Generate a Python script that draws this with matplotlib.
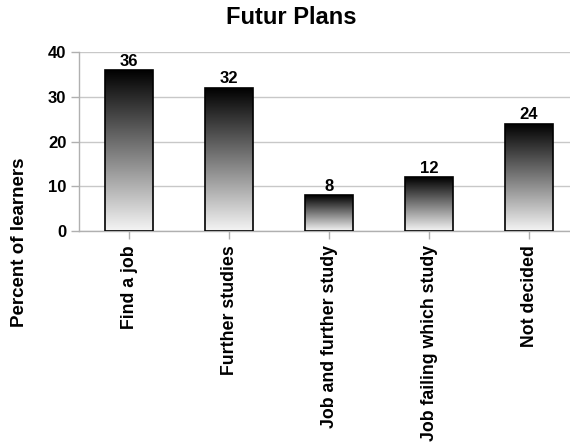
import matplotlib
matplotlib.use("Agg")
import matplotlib.pyplot as plt
import numpy as np
from matplotlib.patches import Rectangle
from matplotlib.colors import LinearSegmentedColormap

categories = ["Find a job", "Further studies", "Job and further study",
              "Job failing which study", "Not decided"]
values = [36, 32, 8, 12, 24]
yticks = [0, 10, 20, 30, 40]

plt.rcParams['font.family'] = ['Liberation Sans', 'DejaVu Sans']
plt.rcParams['font.weight'] = 'bold'

W, H = 570, 446
fig = plt.figure(figsize=(W / 100, H / 100), dpi=100)
ax = fig.add_axes([79 / W, (H - 231) / H, (570 - 79) / W, (231 - 52) / H])

x = np.arange(len(categories))
bar_w = 0.48
cmap = LinearSegmentedColormap.from_list("fade", ["#000000", "#f4f4f4"])
grad = np.linspace(0, 1, 256).reshape(-1, 1)

for xi, v in zip(x, values):
    im = ax.imshow(grad, cmap=cmap, aspect='auto',
                   extent=(xi - bar_w / 2, xi + bar_w / 2, 0, v),
                   origin='upper', zorder=2)
    rect = Rectangle((xi - bar_w / 2, 0), bar_w, v, facecolor='none',
                     edgecolor='black', linewidth=1.2, zorder=3)
    ax.add_patch(rect)
    im.set_clip_path(rect)
    ax.text(xi, v + 0.3, str(v), ha='center', va='bottom',
            fontsize=12, fontweight='bold', zorder=4)

ax.set_xlim(-0.5, 4.41)
ax.set_ylim(0, 40)
ax.set_yticks(yticks)
ax.set_xticks(x)
ax.set_xticklabels(categories, rotation=90, fontsize=12.8, fontweight='bold')
ax.tick_params(axis='y', labelsize=12, colors='#b0b0b0', labelcolor='black',
               length=6, width=1, pad=3)
ax.tick_params(axis='x', colors='#b0b0b0', labelcolor='black',
               length=6, width=1, pad=4)
for lab in ax.get_yticklabels():
    lab.set_fontweight('bold')

ax.grid(axis='y', color='#c8c8c8', linewidth=1, zorder=0)
ax.set_axisbelow(True)
for s in ['top', 'right']:
    ax.spines[s].set_visible(False)
for s in ['left', 'bottom']:
    ax.spines[s].set_color('#b0b0b0')
    ax.spines[s].set_linewidth(1)

fig.text(291 / W, 1 - 18 / H, "Futur Plans", ha='center', va='center',
         fontsize=17, fontweight='bold')
fig.text(20 / W, 1 - 242 / H, "Percent of learners", ha='center', va='center',
         rotation=90, fontsize=13.5, fontweight='bold')

fig.savefig("out.png", dpi=100)
